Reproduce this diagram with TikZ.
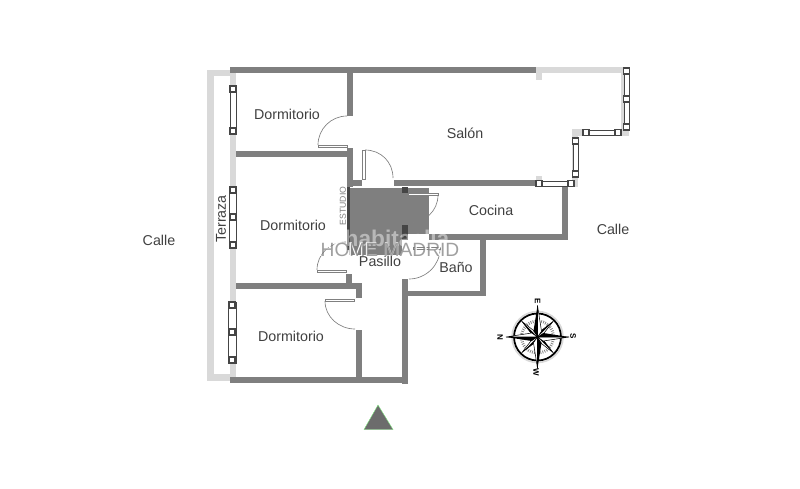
\documentclass[tikz,border=0pt]{standalone}
\usepackage{fontspec}
\setmainfont{Liberation Sans}
\usetikzlibrary{calc}
\definecolor{wallgray}{HTML}{7F7F7F}
\definecolor{palegray}{HTML}{D9D9D9}
\definecolor{darkgray}{HTML}{454545}
\definecolor{inkgray}{HTML}{404040}
\tikzset{
	wall/.style={fill=wallgray, draw=none},
	terrace/.style={fill=palegray, draw=none},
	doorleaf/.style={draw=gray, fill=white, line width=.5pt},
	doorarc/.style={draw=gray, line width=.5pt},
	windowbar/.style={draw=darkgray, fill=white, line width=.7pt},
	windowcap/.style={draw=darkgray, fill=white, line width=.9pt},
	roomlabel/.style={text=inkgray, font=\fontsize{10.7}{12}\selectfont, inner sep=0pt},
	compasslabel/.style={font=\bfseries\fontsize{6}{7}\selectfont, inner sep=0pt},
}
\begin{document}
\begin{tikzpicture}[x=.75pt, y=-.75pt]
\useasboundingbox (0,0) rectangle (800,489);

% terrace and pale walls
\foreach \xa/\ya/\xb/\yb in {207/70/214/381, 207/70/232/76, 207/374/232/381, 230/70/236/381,
	536/67/629/73, 536/73/542/80, 536/176/542/181, 572/129/582/136, 572/136/578/187, 536/181/578/187, 572/130/629/136, 621/67/629/136}{
	\fill[terrace] (\xa,\ya) rectangle (\xb,\yb);
}

% study block
\fill[wallgray] (349,188) rectangle (402,255);
\fill[wallgray] (402,188) rectangle (429,234);
\fill[darkgray] (347,187) rectangle (350,250);
\fill[darkgray] (402,187) rectangle (408,193);
\fill[darkgray] (402,225) rectangle (408,240);

% walls
\foreach \xa/\ya/\xb/\yb in {230/67/536/73, 347/73/353/116, 236/151/353/157, 347/148/353/187, 347/180/362/186, 394/180/536/186,
	562/186/568/240, 429/234/568/240, 480/240/486/296, 402/291/486/296, 402/279/408/384, 230/377/408/383,
	346/274/352/284, 236/283/362/289, 356/283/362/298, 356/330/362/377}{
	\fill[wall] (\xa,\ya) rectangle (\xb,\yb);
}

% doors
\foreach \xa/\ya/\xb/\yb in {318/145/347/147.5, 362/150/365/179, 408/193/438/195, 413/247/440/249, 317/270/346/272, 325/299/354/301}{
	\draw[doorleaf] (\xa,\ya) rectangle (\xb,\yb);
}
\draw[doorarc] (318,145) .. controls (318,129) and (331,116) .. (347,116);
\draw[doorarc] (365,150) .. controls (381,150) and (393,162) .. (393,178);
\draw[doorarc] (438,195) .. controls (438,211) and (425,223) .. (408,223);
\draw[doorarc] (440,249) .. controls (440,265) and (426,279) .. (409,279);
\draw[doorarc] (317,270) .. controls (317,254) and (330,242) .. (346,242);
\draw[doorarc] (325,301) .. controls (325,317) and (339,329) .. (355,329);

% windows
\foreach \xa/\ya/\xb/\yb in {230/86/236/134, 229/187/236/248, 228/302/236/363, 536/181/574/186, 573/138/578/177, 583/130/621/135, 624/69/629/130}{
	\draw[windowbar] (\xa,\ya) rectangle (\xb,\yb);
}
\foreach \x/\y in {233/89, 233/131, 233/190, 233/217, 233/245, 232/305, 232/332, 232/360,
	539/183.5, 571/183.5, 575.5/141, 575.5/174, 586/132.5, 618/132.5, 626.5/71, 626.5/99, 626.5/127}{
	\draw[windowcap] (\x-3,\y-3) rectangle (\x+3,\y+3);
}

% labels
\node[roomlabel] (dorma) at (287,114) {Dormitorio};
\node[roomlabel] (dormb) at (293,225) {Dormitorio};
\node[roomlabel] (dormc) at (291,336) {Dormitorio};
\node[roomlabel] (salon) at (465,133) {Salón};
\node[roomlabel] (cocina) at (491,210) {Cocina};
\node[roomlabel] (pasillo) at (380,261) {Pasillo};
\node[roomlabel] (bano) at (456,267) {Baño};
\node[roomlabel] (callea) at (159,240) {Calle};
\node[roomlabel] (calleb) at (613,229) {Calle};
\node[roomlabel, rotate=90] (terraza) at (221,219) {Terraza};
\node[text=gray, font=\fontsize{6.5}{8}\selectfont, inner sep=0pt, rotate=90] (estudio) at (343,206) {ESTUDIO};

% watermark
\node[text=white, opacity=.45, font=\bfseries\fontsize{17}{20}\selectfont, inner sep=0pt] (habitaclia) at (397,238) {habitaclia};
\node[text=white, font=\fontsize{15}{16}\selectfont, inner sep=0pt] (homeshade) at (390,250) {HOME MADRID};
\node[text=gray, font=\fontsize{14.4}{16}\selectfont, inner sep=0pt, opacity=.75] (home) at (390,250) {HOME MADRID};

% compass
\coordinate (rose) at (537.5,337);
\draw[palegray, line width=1.2pt] (rose) circle [radius=25.5];
\draw[black, line width=1.3pt] (rose) circle [radius=23.5];
\draw[gray, line width=2.2pt, dash pattern=on .6pt off 1pt] (rose) circle [radius=16];
\foreach \a in {45,135,225,315}{
	\fill[white] (rose) -- ($(rose)+(\a+20:6)$) -- ($(rose)+(\a:22)$) -- ($(rose)+(\a-20:6)$) -- cycle;
	\draw[black, line width=.4pt] (rose) -- ($(rose)+(\a+20:6)$) -- ($(rose)+(\a:22)$) -- ($(rose)+(\a-20:6)$) -- cycle;
	\fill[black] (rose) -- ($(rose)+(\a-20:6)$) -- ($(rose)+(\a:22)$) -- cycle;
}
\foreach \a in {0,90,180,270}{
	\fill[white] (rose) -- ($(rose)+(\a+35:7)$) -- ($(rose)+(\a:31.5)$) -- cycle;
	\draw[black, line width=.4pt] (rose) -- ($(rose)+(\a+35:7)$) -- ($(rose)+(\a:31.5)$) -- cycle;
	\fill[black] (rose) -- ($(rose)+(\a-35:7)$) -- ($(rose)+(\a:31.5)$) -- cycle;
}
\node[compasslabel, rotate=-90] (ne) at (537.5,301.5) {E};
\node[compasslabel, rotate=-90] (ns) at (573,336.5) {S};
\node[compasslabel, rotate=-90] (nw) at (536,372) {W};
\node[compasslabel, rotate=-90] (nn) at (500,337) {N};

% north arrow
\fill[fill=wallgray!85!black, draw=palegray!60!green, line width=.3pt] (378,405) -- (393,429.5) -- (364,429.5) -- cycle;
\end{tikzpicture}
\end{document}
